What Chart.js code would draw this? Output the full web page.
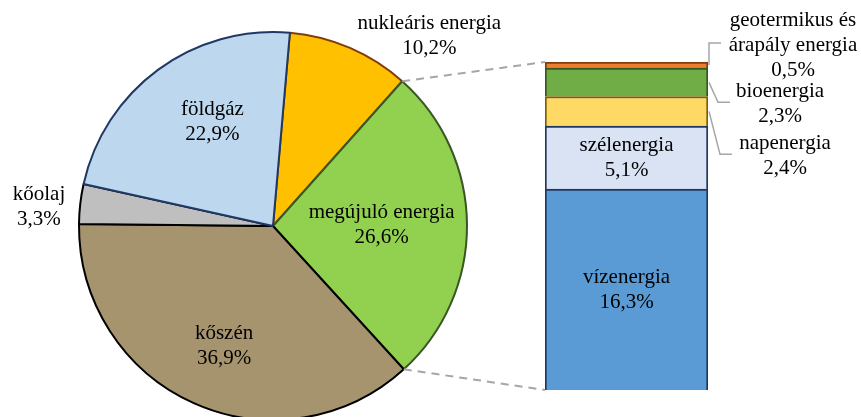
<!DOCTYPE html>
<html>
<head>
<meta charset="utf-8">
<script src="https://cdn.jsdelivr.net/npm/chart.js"></script>
<style>
html, body { margin: 0; padding: 0; background: #fff; overflow: hidden; width: 861px; height: 417px; }
#pieBox { position: absolute; left: 0; top: 0; width: 546px; height: 452px; }
#barBox { position: absolute; left: 0; top: 0; width: 861px; height: 417px; }
</style>
</head>
<body>
<div id="pieBox"><canvas id="pie" width="546" height="452"></canvas></div>
<div id="barBox"><canvas id="bar" width="861" height="417"></canvas></div>
<script>
// energy mix (%)
var pieLabels = ["nukleáris energia", "megújuló energia", "kőszén", "kőolaj", "földgáz"];
var pieValues = [10.2, 26.6, 36.9, 3.3, 22.9];
var pieColors = ["#FFC000", "#92D050", "#A5946E", "#BFBFBF", "#BDD7EE"];
var pieBorders = ["#843C0C", "#385723", "#000000", "#000000", "#1F3864"];

// breakdown of the renewable slice (%)
var renewLabels = ["vízenergia", "szélenergia", "napenergia", "bioenergia", "geotermikus és árapály energia"];
var renewValues = [16.3, 5.1, 2.4, 2.3, 0.5];
var renewColors = ["#5B9BD5", "#DAE3F3", "#FFD966", "#70AD47", "#ED7D31"];
var renewBorders = ["#1F3864", "#1F3864", "#7F6000", "#385723", "#843C0C"];

var renewIndex = 1; // which pie slice is broken down

// label placement (radius factor, angle shift in degrees)
var pieLabelR = [1.27, 0.56, 0.67, 1.21, 0.62];
var pieLabelShift = [16, 0, -2, -2, 6];
// outside labels of the bar: offset from the right edge / segment middle
var barLabelDx = [0, 0, 77, 72, 85];
var barLabelDy = [0, 0, 45, 22, -20];
var leaderElbow = [0, 0, 12, 10, 1];

var FONT = '21px "Liberation Serif", "Times New Roman", serif';
var LINE_H = 25;

function pct(v) {
    return v.toFixed(1).replace(".", ",") + "%";
}

function wrap(text) {
    var words = text.split(" ");
    var lines = [];
    var cur = "";
    for (var i = 0; i < words.length; i++) {
        var t = cur ? cur + " " + words[i] : words[i];
        if (t.length > 17 && cur) {
            lines.push(cur);
            cur = words[i];
        } else {
            cur = t;
        }
    }
    lines.push(cur);
    return lines;
}

function drawBlock(ctx, lines, x, y) {
    var top = y - (lines.length - 1) * LINE_H / 2;
    for (var i = 0; i < lines.length; i++) {
        ctx.fillText(lines[i], x, top + i * LINE_H);
    }
}

var pieLabelPlugin = {
    id: "pieLabels",
    afterDatasetsDraw: function (chart) {
        var ctx = chart.ctx;
        var meta = chart.getDatasetMeta(0);
        ctx.save();
        ctx.font = FONT;
        ctx.fillStyle = "#000";
        ctx.textAlign = "center";
        ctx.textBaseline = "middle";
        meta.data.forEach(function (arc, i) {
            var a = (arc.startAngle + arc.endAngle) / 2 + pieLabelShift[i] * Math.PI / 180;
            var r = arc.outerRadius * pieLabelR[i];
            var x = arc.x + Math.cos(a) * r;
            var y = arc.y + Math.sin(a) * r;
            drawBlock(ctx, wrap(pieLabels[i]).concat([pct(pieValues[i])]), x, y);
        });
        ctx.restore();
    }
};

var pieChart = new Chart(document.getElementById("pie"), {
    type: "pie",
    data: {
        labels: pieLabels,
        datasets: [{
            data: pieValues,
            backgroundColor: pieColors,
            borderColor: pieBorders,
            borderWidth: 2
        }]
    },
    options: {
        responsive: false,
        animation: false,
        devicePixelRatio: 1,
        rotation: 5,
        layout: { padding: { left: 78, right: 78, top: 31, bottom: 31 } },
        plugins: {
            legend: { display: false },
            tooltip: { enabled: false }
        }
    },
    plugins: [pieLabelPlugin]
});

var barPlugin = {
    id: "barExtras",
    afterDatasetsDraw: function (chart) {
        var ctx = chart.ctx;
        var first = chart.getDatasetMeta(0).data[0];
        var last = chart.getDatasetMeta(renewValues.length - 1).data[0];
        var left = first.x - first.width / 2;
        var right = first.x + first.width / 2;

        // dashed connectors from the renewable slice to the bar
        var arc = pieChart.getDatasetMeta(0).data[renewIndex];
        ctx.save();
        ctx.strokeStyle = "#A6A6A6";
        ctx.lineWidth = 2;
        ctx.setLineDash([8, 6]);
        ctx.beginPath();
        ctx.moveTo(arc.x + Math.cos(arc.startAngle) * arc.outerRadius, arc.y + Math.sin(arc.startAngle) * arc.outerRadius);
        ctx.lineTo(left, last.y);
        ctx.moveTo(arc.x + Math.cos(arc.endAngle) * arc.outerRadius, arc.y + Math.sin(arc.endAngle) * arc.outerRadius);
        ctx.lineTo(left, first.base);
        ctx.stroke();
        ctx.restore();

        ctx.save();
        ctx.font = FONT;
        ctx.fillStyle = "#000";
        ctx.textAlign = "center";
        ctx.textBaseline = "middle";
        for (var i = 0; i < renewValues.length; i++) {
            var el = chart.getDatasetMeta(i).data[0];
            var midY = (el.y + el.base) / 2;
            var lines = wrap(renewLabels[i]).concat([pct(renewValues[i])]);
            if (barLabelDx[i] === 0) {
                drawBlock(ctx, lines, el.x, midY);
            } else {
                var ly = midY + barLabelDy[i];
                drawBlock(ctx, lines, right + barLabelDx[i], ly);
                var lineY = ly - 2;
                ctx.strokeStyle = "#A6A6A6";
                ctx.lineWidth = 1.5;
                ctx.beginPath();
                ctx.moveTo(right + 1, midY);
                ctx.lineTo(right + leaderElbow[i], lineY);
                ctx.lineTo(right + leaderElbow[i] + 12, lineY);
                ctx.stroke();
            }
        }
        ctx.restore();
    }
};

var barSets = [];
for (var i = 0; i < renewValues.length; i++) {
    barSets.push({
        label: renewLabels[i],
        data: [renewValues[i]],
        backgroundColor: renewColors[i],
        borderColor: renewBorders[i],
        borderWidth: 2,
        barPercentage: 1,
        categoryPercentage: 1
    });
}

new Chart(document.getElementById("bar"), {
    type: "bar",
    data: {
        labels: ["megújuló energia"],
        datasets: barSets
    },
    options: {
        responsive: false,
        animation: false,
        devicePixelRatio: 1,
        layout: { padding: { left: 545, right: 153, top: 62, bottom: 27 } },
        scales: {
            x: { display: false, stacked: true },
            y: { display: false, stacked: true, min: 0, max: 26.6 }
        },
        plugins: {
            legend: { display: false },
            tooltip: { enabled: false }
        }
    },
    plugins: [barPlugin]
});
</script>
</body>
</html>
